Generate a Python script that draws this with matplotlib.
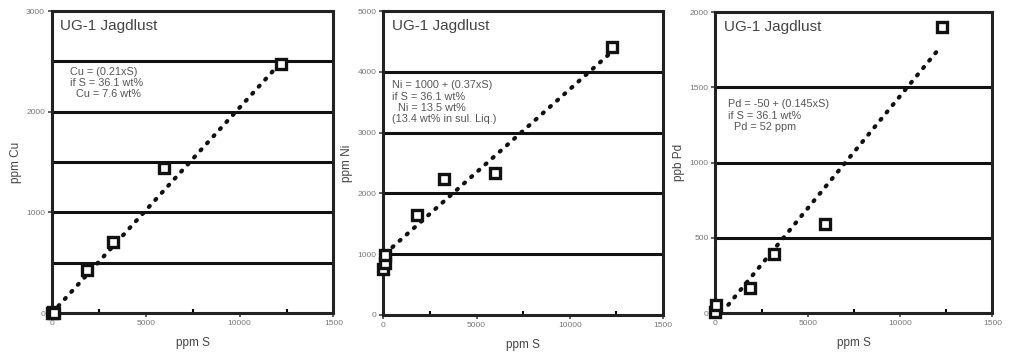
import matplotlib
matplotlib.use("Agg")
import matplotlib.pyplot as plt

plt.rcParams['font.family'] = ['Liberation Sans', 'DejaVu Sans']

# sample values
cu_s = [0, 60, 120, 1850, 3250, 5950, 12200]
cu_val = [0, 15, 5, 430, 710, 1440, 2470]
cu_fit_s = [0, 12050]
cu_fit = [0, 2460]

ni_s = [0, 60, 100, 1800, 3250, 6000, 12250]
ni_val = [750, 860, 980, 1650, 2240, 2340, 4410]
ni_fit_s = [100, 12150]
ni_fit = [1010, 4300]

pd_s = [0, 60, 1850, 3150, 5950, 12250]
pd_val = [10, 55, 165, 390, 590, 1900]
pd_fit_s = [700, 12100]
pd_fit = [55, 1755]

x_ticks = [0, 5000, 10000, 15000]
x_labels = ['0', '5000', '10000', '1500']

panels = [
    dict(s=cu_s, v=cu_val, fs=cu_fit_s, fv=cu_fit, ymax=3000, grid=500,
         yticks=[0, 1000, 2000, 3000], ylabel='ppm Cu',
         note='Cu = (0.21xS)\nif S = 36.1 wt%\n  Cu = 7.6 wt%',
         note_xy=(0.065, 0.815), pos=[0.0515, 0.123, 0.279, 0.846]),
    dict(s=ni_s, v=ni_val, fs=ni_fit_s, fv=ni_fit, ymax=5000, grid=1000,
         yticks=[0, 1000, 2000, 3000, 4000, 5000], ylabel='ppm Ni',
         note='Ni = 1000 + (0.37xS)\nif S = 36.1 wt%\n  Ni = 13.5 wt%\n(13.4 wt% in sul. Liq.)',
         note_xy=(0.03, 0.772), pos=[0.380, 0.118, 0.277, 0.851]),
    dict(s=pd_s, v=pd_val, fs=pd_fit_s, fv=pd_fit, ymax=2000, grid=500,
         yticks=[0, 500, 1000, 1500, 2000], ylabel='ppb Pd',
         note='Pd = -50 + (0.145xS)\nif S = 36.1 wt%\n  Pd = 52 ppm',
         note_xy=(0.047, 0.71), pos=[0.709, 0.123, 0.2745, 0.843]),
]

fig = plt.figure(figsize=(10.09, 3.57), dpi=100)
fig.patch.set_facecolor('white')

for p in panels:
    ax = fig.add_axes(p['pos'])
    ax.set_xlim(0, 15000)
    ax.set_ylim(0, p['ymax'])

    # thick horizontal grid lines
    g = p['grid']
    while g < p['ymax']:
        ax.axhline(g, color='#111111', lw=2.2, zorder=1)
        g += p['grid']

    ax.plot(p['fs'], p['fv'], color='#111111', lw=3.0,
            linestyle=(0, (0.3, 2.0)), dash_capstyle='round', zorder=2)
    ax.plot(p['s'], p['v'], linestyle='none', marker='s', ms=7,
            mfc='white', mec='#111111', mew=2.4, zorder=3, clip_on=False)

    for sp in ax.spines.values():
        sp.set_linewidth(2.2)
        sp.set_color('#222222')

    ax.set_xticks(x_ticks)
    ax.set_xticklabels(x_labels)
    ax.set_xticks([2500, 7500, 12500], minor=True)
    ax.set_yticks(p['yticks'])
    ax.tick_params(axis='both', which='major', labelsize=6, labelcolor='#777777',
                   length=3, width=1.2, color='#444444', pad=2)
    ax.tick_params(axis='x', which='minor', direction='in', length=3, width=1.5)

    ax.set_xlabel('ppm S', fontsize=8.5, color='#444444', labelpad=7)
    ax.set_ylabel(p['ylabel'], fontsize=8.5, color='#444444', labelpad=3)

    ax.text(0.03, 0.975, 'UG-1 Jagdlust', transform=ax.transAxes, fontsize=11,
            color='#444444', ha='left', va='top')
    ax.text(p['note_xy'][0], p['note_xy'][1], p['note'], transform=ax.transAxes,
            fontsize=7.8, color='#555555', ha='left', va='top', linespacing=1.15)

fig.savefig('out.png', dpi=100, facecolor='white')
